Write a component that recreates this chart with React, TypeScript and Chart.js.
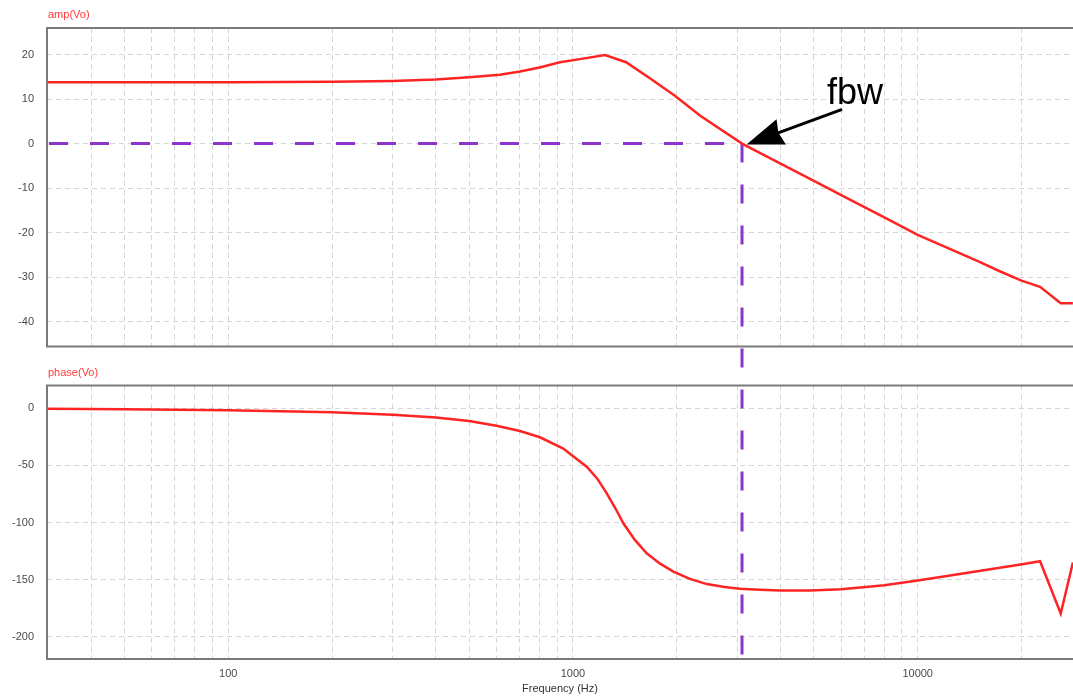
import React, { useEffect, useRef } from 'react';
import { Chart, registerables } from 'chart.js';

Chart.register(...registerables);
Chart.defaults.font.family = '"Liberation Sans", Arial, Helvetica, sans-serif';

// ---------- data ----------
const ampFreq = [30, 100, 200, 300, 400, 500, 614, 702, 800, 916, 1048, 1239, 1426, 1671, 1971, 2335, 3093, 4000, 5000, 6000, 8000, 10000, 15000, 17300, 20000, 22650, 26000, 28200];
const ampDb = [13.8, 13.8, 13.9, 14.1, 14.4, 14.9, 15.5, 16.2, 17.1, 18.3, 19.0, 19.9, 18.3, 14.7, 10.8, 6.3, 0, -4.5, -8.4, -11.6, -16.6, -20.5, -26.5, -28.7, -30.8, -32.2, -35.9, -35.9];

const phaseFreq = [30, 50, 100, 200, 300, 400, 500, 600, 702, 802, 937, 1098, 1175, 1253, 1330, 1400, 1510, 1636, 1790, 1955, 2183, 2444, 2750, 3049, 3483, 3983, 4864, 6000, 8000, 10000, 12420, 17300, 19900, 22650, 26000, 28200];
const phaseDeg = [-0.5, -1, -1.8, -3.5, -5.8, -8.2, -11.2, -15.5, -20.0, -25.5, -35.4, -51.4, -61.5, -74.6, -88, -100.7, -115, -126.9, -136, -142.9, -149.3, -153.9, -156.5, -157.9, -158.8, -159.4, -159.4, -158.3, -155, -150.7, -146.3, -139.6, -136.7, -133.9, -179.6, -135];

const ampTicks = [20, 10, 0, -10, -20, -30, -40];
const phaseTicks = [0, -50, -100, -150, -200];
const freqGrid = [40, 50, 60, 70, 80, 90, 100, 200, 300, 400, 500, 600, 700, 800, 900, 1000, 2000, 3000, 4000, 5000, 6000, 7000, 8000, 9000, 10000, 20000];
const freqLabels = [100, 1000, 10000];
const fbw = 3093;

const freqRange = [29.8, 28220];
const ampRange = [-45.6, 26];
const phaseRange = [-219.4, 19.7];

// ---------- styles ----------
const RED = '#ff2424';
const PURPLE = '#8b35cc';
const GRID = '#d6d6d6';
const FRAME = '#7a7a7a';
const TICK = '#4a4a4a';
const FONT = '"Liberation Sans", Arial, Helvetica, sans-serif';
const DASH = [19, 22];
const DASH_PERIOD = 41;

const W = 1073;
const TOP_H = 366;
const BOT_H = 333;

const shared = { dashTravel: 0 };

function framePlugin(label: string) {
  return {
    id: 'frame',
    beforeDatasetsDraw(chart: any) {
      const { ctx, chartArea: a } = chart;
      ctx.save();
      ctx.strokeStyle = FRAME;
      ctx.lineWidth = 2;
      ctx.beginPath();
      ctx.moveTo(a.right + 4, a.top);
      ctx.lineTo(a.left, a.top);
      ctx.lineTo(a.left, a.bottom);
      ctx.lineTo(a.right + 4, a.bottom);
      ctx.stroke();
      ctx.restore();
    },
    afterDraw(chart: any) {
      const { ctx, chartArea: a } = chart;
      ctx.save();
      ctx.fillStyle = '#ff3a3a';
      ctx.font = `11px ${FONT}`;
      ctx.textAlign = 'left';
      ctx.textBaseline = 'middle';
      ctx.fillText(label, a.left + 1, a.top - 13);
      ctx.restore();
    },
  };
}

const topMarker = {
  id: 'topMarker',
  beforeDatasetsDraw(chart: any) {
    const { ctx, chartArea: a } = chart;
    const x = chart.scales.x.getPixelForValue(fbw);
    const y0 = chart.scales.y.getPixelForValue(0);
    ctx.save();
    ctx.strokeStyle = PURPLE;
    ctx.lineWidth = 3;
    ctx.setLineDash(DASH);
    ctx.beginPath();
    ctx.moveTo(a.left + 2, y0);
    ctx.lineTo(x, y0);
    ctx.stroke();
    ctx.beginPath();
    ctx.moveTo(x, y0);
    ctx.lineTo(x, chart.height);
    ctx.stroke();
    ctx.restore();
    shared.dashTravel = chart.height - y0;
  },
  afterDatasetsDraw(chart: any) {
    const { ctx } = chart;
    const x = chart.scales.x.getPixelForValue(fbw);
    const y0 = chart.scales.y.getPixelForValue(0);
    const tipX = x + 4.5;
    const tipY = y0 + 1;
    const tailX = tipX + 95.6;
    const tailY = tipY - 35.3;
    const dx = tailX - tipX;
    const dy = tailY - tipY;
    const len = Math.hypot(dx, dy);
    const ux = dx / len;
    const uy = dy / len;
    const headLen = 37;
    const halfW = 13.5;
    const bx = tipX + ux * headLen;
    const by = tipY + uy * headLen;
    ctx.save();
    ctx.strokeStyle = '#000';
    ctx.fillStyle = '#000';
    ctx.lineWidth = 3;
    ctx.beginPath();
    ctx.moveTo(tailX, tailY);
    ctx.lineTo(bx - ux * 4, by - uy * 4);
    ctx.stroke();
    ctx.beginPath();
    ctx.moveTo(tipX, tipY);
    ctx.lineTo(bx - uy * halfW, by + ux * halfW);
    ctx.lineTo(bx - ux * 3, by - uy * 3);
    ctx.lineTo(bx + uy * halfW, by - ux * halfW);
    ctx.closePath();
    ctx.fill();
    ctx.font = `36px ${FONT}`;
    ctx.textAlign = 'left';
    ctx.textBaseline = 'alphabetic';
    ctx.fillText('fbw', x + 85, y0 - 40);
    ctx.restore();
  },
};

const bottomMarker = {
  id: 'bottomMarker',
  beforeDatasetsDraw(chart: any) {
    const { ctx, chartArea: a } = chart;
    const x = chart.scales.x.getPixelForValue(fbw);
    ctx.save();
    ctx.strokeStyle = PURPLE;
    ctx.lineWidth = 3;
    ctx.setLineDash(DASH);
    ctx.lineDashOffset = shared.dashTravel % DASH_PERIOD;
    ctx.beginPath();
    ctx.moveTo(x, 0);
    ctx.lineTo(x, a.bottom);
    ctx.stroke();
    ctx.restore();
  },
};

function xAxis(showLabels: boolean) {
  return {
    type: 'logarithmic',
    min: freqRange[0],
    max: freqRange[1],
    afterBuildTicks(scale: any) {
      scale.ticks = freqGrid.map((v) => ({ value: v }));
    },
    afterFit(scale: any) {
      scale.height = showLabels ? 40 : 0;
    },
    grid: { color: GRID, lineWidth: 1, drawTicks: false },
    border: { display: false, dash: [5, 4] },
    ticks: {
      display: showLabels,
      autoSkip: false,
      maxRotation: 0,
      padding: 8,
      color: TICK,
      font: { size: 11 },
      callback: (v: any) => (freqLabels.includes(Number(v)) ? String(v) : ''),
    },
    title: {
      display: showLabels,
      text: 'Frequency (Hz)',
      color: '#333',
      font: { size: 11 },
      padding: { top: 0, bottom: 3 },
    },
  };
}

function yAxis(range: number[], ticks: number[]) {
  return {
    type: 'linear',
    min: range[0],
    max: range[1],
    afterBuildTicks(scale: any) {
      scale.ticks = ticks.map((v) => ({ value: v }));
    },
    afterFit(scale: any) {
      scale.width = 47;
    },
    grid: { color: GRID, lineWidth: 1, drawTicks: false },
    border: { display: false, dash: [5, 4] },
    ticks: { padding: 13, color: TICK, font: { size: 11 } },
  };
}

export default function App() {
  const topRef = useRef<HTMLCanvasElement>(null);
  const botRef = useRef<HTMLCanvasElement>(null);

  useEffect(() => {
    document.body.style.margin = '0';
    document.body.style.background = '#fff';

    const top = new Chart(topRef.current as HTMLCanvasElement, {
      type: 'line',
      data: {
        datasets: [
          {
            label: 'amp(Vo)',
            data: ampFreq.map((f, i) => ({ x: f, y: ampDb[i] })),
            borderColor: RED,
            borderWidth: 2.5,
            pointRadius: 0,
            tension: 0,
          },
        ],
      },
      options: {
        responsive: false,
        animation: false,
        layout: { padding: { top: 28, bottom: 16, left: 0, right: 0 } },
        plugins: { legend: { display: false }, tooltip: { enabled: false }, title: { display: false } },
        scales: { x: xAxis(false) as any, y: yAxis(ampRange, ampTicks) as any },
      },
      plugins: [framePlugin('amp(Vo)'), topMarker],
    });

    const bot = new Chart(botRef.current as HTMLCanvasElement, {
      type: 'line',
      data: {
        datasets: [
          {
            label: 'phase(Vo)',
            data: phaseFreq.map((f, i) => ({ x: f, y: phaseDeg[i] })),
            borderColor: RED,
            borderWidth: 2.5,
            pointRadius: 0,
            tension: 0,
          },
        ],
      },
      options: {
        responsive: false,
        animation: false,
        layout: { padding: { top: 18, bottom: 0, left: 0, right: 0 } },
        plugins: { legend: { display: false }, tooltip: { enabled: false }, title: { display: false } },
        scales: { x: xAxis(true) as any, y: yAxis(phaseRange, phaseTicks) as any },
      },
      plugins: [framePlugin('phase(Vo)'), bottomMarker],
    });

    return () => {
      top.destroy();
      bot.destroy();
    };
  }, []);

  return (
    <div style={{ position: 'fixed', left: 0, top: 0, width: W, height: TOP_H + BOT_H, background: '#fff', overflow: 'hidden' }}>
      <canvas ref={topRef} width={W} height={TOP_H} style={{ position: 'absolute', left: 0, top: 0, display: 'block' }} />
      <canvas ref={botRef} width={W} height={BOT_H} style={{ position: 'absolute', left: 0, top: TOP_H, display: 'block' }} />
    </div>
  );
}
